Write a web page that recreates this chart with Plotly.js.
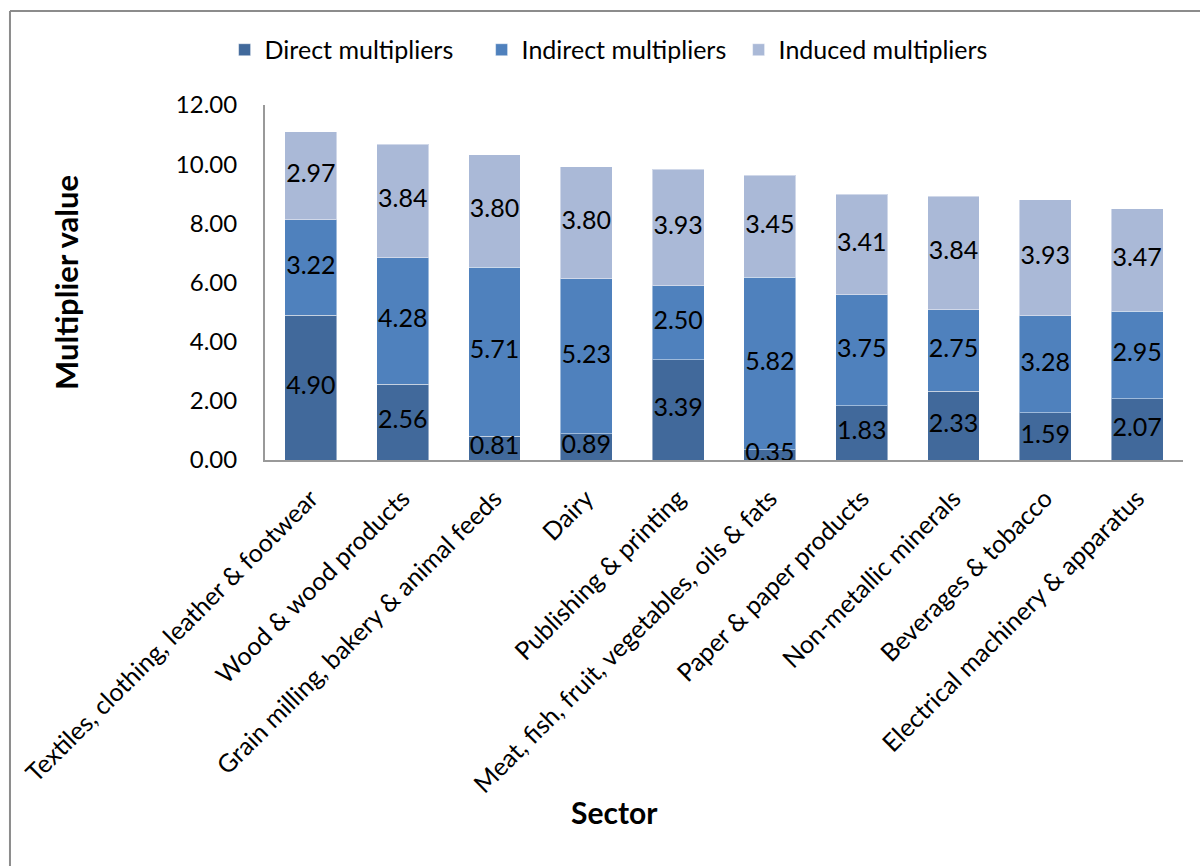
<!DOCTYPE html>
<html>
<head>
<meta charset="utf-8">
<script src="https://cdn.plot.ly/plotly-3.0.1.min.js"></script>
<style>html,body{margin:0;padding:0;background:#fff;}#chart{width:1200px;height:866px;}</style>
</head>
<body>
<div id="chart"></div>
<script>
const sectors = [
  "Textiles, clothing, leather & footwear",
  "Wood & wood products",
  "Grain milling, bakery & animal feeds",
  "Dairy",
  "Publishing & printing",
  "Meat, fish, fruit, vegetables, oils & fats",
  "Paper & paper products",
  "Non-metallic minerals",
  "Beverages & tobacco",
  "Electrical machinery & apparatus"
];
const directVals   = [4.90, 2.56, 0.81, 0.89, 3.39, 0.35, 1.83, 2.33, 1.59, 2.07];
const indirectVals = [3.22, 4.28, 5.71, 5.23, 2.50, 5.82, 3.75, 2.75, 3.28, 2.95];
const inducedVals  = [2.97, 3.84, 3.80, 3.80, 3.93, 3.45, 3.41, 3.84, 3.93, 3.47];
const seriesNames  = ["Direct multipliers", "Indirect multipliers", "Induced multipliers"];
const seriesColors = ["#41699b", "#4f81bd", "#aab9d7"];
const xTitle = "Sector";
const yTitle = "Multiplier value";

const FONT = "Lato, 'Open Sans', sans-serif";
const allVals = [directVals, indirectVals, inducedVals];

const data = [];
allVals.forEach((vals, i) => {
  data.push({
    type: "bar",
    name: seriesNames[i],
    x: sectors,
    y: vals,
    marker: {color: seriesColors[i], line: {color: "rgba(255,255,255,0.45)", width: 1}},
    hoverinfo: "skip"
  });
});
// value labels, centred in each stacked segment, drawn above all bars
allVals.forEach((vals, i) => {
  const mids = vals.map((v, k) => {
    let base = 0;
    for (let j = 0; j < i; j++) base += allVals[j][k];
    return base + v / 2;
  });
  data.push({
    type: "scatter",
    mode: "text",
    x: sectors,
    y: mids,
    text: vals.map(v => v.toFixed(2)),
    textposition: "middle center",
    textfont: {family: FONT, size: 25, color: "#000"},
    cliponaxis: false,
    showlegend: false,
    hoverinfo: "skip"
  });
});

const layout = {
  width: 1200, height: 866,
  barmode: "stack",
  bargap: 0.435,
  paper_bgcolor: "#fff",
  plot_bgcolor: "#fff",
  font: {family: FONT, size: 24, color: "#000"},
  margin: {l: 265, r: 17, t: 105, b: 406},
  showlegend: true,
  legend: {
    orientation: "h",
    x: -0.044, xanchor: "left",
    y: 1.155, yanchor: "middle",
    font: {family: FONT, size: 25, color: "#000"},
    traceorder: "normal",
    entrywidth: 212
  },
  xaxis: {
    type: "category",
    tickangle: -45,
    showline: true, linecolor: "#999", linewidth: 2,
    ticks: "", showgrid: false,
    tickfont: {family: FONT, size: 25, color: "#000"},
    ticklabelstandoff: 12,
    automargin: false
  },
  yaxis: {
    range: [0, 12],
    dtick: 2,
    tickformat: ".2f",
    showline: true, linecolor: "#999", linewidth: 2,
    ticks: "", showgrid: false, zeroline: false,
    tickfont: {family: FONT, size: 24, color: "#000"},
    ticklabelstandoff: 21,
    automargin: false,
    title: {text: "<b>" + yTitle + "</b>", font: {family: FONT, size: 31, color: "#000"}, standoff: 88}
  },
  annotations: [
    {text: "<b>" + xTitle + "</b>", xref: "paper", yref: "paper", x: 0.381, y: -0.9915,
     xanchor: "center", yanchor: "middle", showarrow: false,
     font: {family: FONT, size: 30, color: "#000"}}
  ],
  shapes: [
    {type: "line", xref: "paper", yref: "paper", x0: -0.2778, x1: 1.5, y0: 1.2648, y1: 1.2648, line: {color: "#8c8c8c", width: 2}},
    {type: "line", xref: "paper", yref: "paper", x0: -0.2778, x1: -0.2778, y0: 1.2648, y1: -1.2, line: {color: "#8c8c8c", width: 2}}
  ]
};

Plotly.newPlot("chart", data, layout, {displayModeBar: false, staticPlot: true});
</script>
</body>
</html>
